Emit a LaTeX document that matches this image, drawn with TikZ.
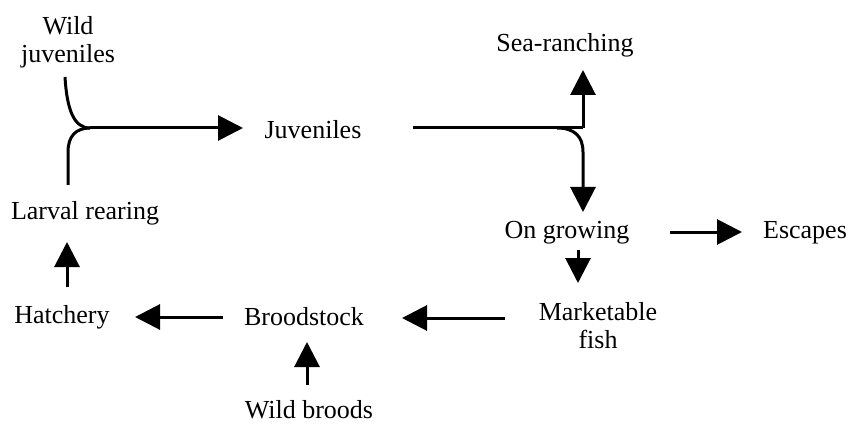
\documentclass[tikz,border=0pt]{standalone}
\usepackage{fontspec}
\setmainfont{Liberation Serif}
\usetikzlibrary{arrows.meta}
\begin{document}
\begin{tikzpicture}[x=1pt,y=-1pt,
  lbl/.style={inner sep=0pt,align=center,font=\fontsize{26}{28}\selectfont},
  ln/.style={line width=3pt},
  arr/.style={line width=3pt,-{Triangle[length=25pt,width=25pt]}}]
\useasboundingbox (0,0) rectangle (852,425);
\node[lbl] (wildjuv) at (68,42) {Wild\\juveniles};
\node[lbl] (juv) at (313,130) {Juveniles};
\node[lbl] (sea) at (565,45) {Sea-ranching};
\node[lbl] (larval) at (85,213) {Larval rearing};
\node[lbl] (ongrow) at (567,233) {On growing};
\node[lbl] (escapes) at (805,233) {Escapes};
\node[lbl] (market) at (598,326) {Marketable\\fish};
\node[lbl] (hatch) at (62,317) {Hatchery};
\node[lbl] (brood) at (304,317) {Broodstock};
\node[lbl] (wildb) at (309,410) {Wild broods};
% junctions
\coordinate (jl) at (90,128);
\coordinate (jr) at (583,128);
% left junction
\draw[ln] ([shift={(-3,35)}]wildjuv.center) .. controls (67,110) and (74,128) .. (jl);
\draw[ln] ([shift={(-17,-28)}]larval.center) -- (68,152) .. controls (68,136) and (76,128) .. (jl);
\draw[arr] (jl) -- ([shift={(-70,-2)}]juv.center);
% lower loop
\draw[arr] ([shift={(5,-30)}]hatch.center) -- ([shift={(-18,29)}]larval.center);
\draw[arr] ([shift={(-81,0)}]brood.center) -- ([shift={(73,0)}]hatch.center);
\draw[arr] ([shift={(-2,-25)}]wildb.center) -- ([shift={(3,25)}]brood.center);
\draw[arr] ([shift={(-93,-8)}]market.center) -- ([shift={(98,1)}]brood.center);
\draw[arr] ([shift={(11,17)}]ongrow.center) -- ([shift={(-20,-43)}]market.center);
\draw[arr] ([shift={(103,-1)}]ongrow.center) -- ([shift={(-63,-1)}]escapes.center);
% right junction
\draw[ln] ([shift={(100,-2)}]juv.center) -- (jr);
\draw[arr] (jr) -- ([shift={(18,25)}]sea.center);
\draw[arr] ([shift={(244,-2)}]juv.center) .. controls (574,128) and (583,136) .. (583,152) -- ([shift={(16,-21)}]ongrow.center);
\end{tikzpicture}
\end{document}
